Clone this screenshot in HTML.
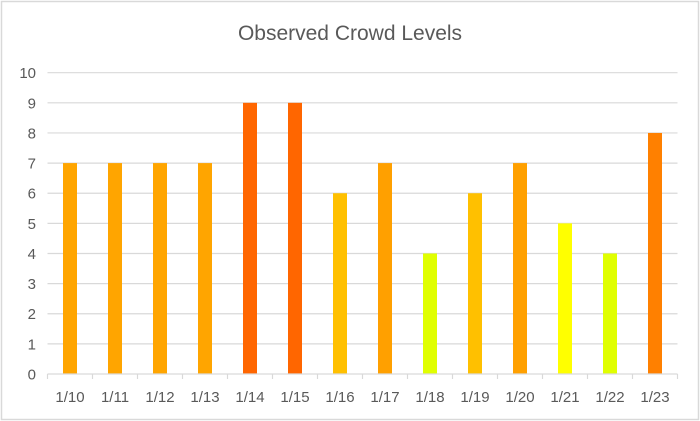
<!DOCTYPE html>
<html><head><meta charset="utf-8"><style>
body{margin:0;background:#fff;}
svg{display:block;font-family:"Liberation Sans",sans-serif;}
</style></head><body>
<svg id="chart" width="700" height="421">
<rect x="1.5" y="1.5" width="697" height="418" fill="#fff" stroke="#d9d9d9" stroke-width="1.5"/>
<text x="350" y="40" text-anchor="middle" font-size="21" fill="#595959">Observed Crowd Levels</text>
<g id="grid"></g><g id="bars"></g><g id="axes"></g>
</svg>
<script>
const categories=["1/10","1/11","1/12","1/13","1/14","1/15","1/16","1/17","1/18","1/19","1/20","1/21","1/22","1/23"];
const values=[7,7,7,7,9,9,6,7,4,6,7,5,4,8];
const colors=["#FFA500","#FFA500","#FFA500","#FFA500","#FF6600","#FF6600","#FFC000","#FFA000","#E0FF00","#FFC000","#FFA000","#FFFF00","#E0FF00","#FF8000"];
const yTicks=[0,1,2,3,4,5,6,7,8,9,10];
const NS="http://www.w3.org/2000/svg";
const x0=47.5,x1=677.5,yBase=374,yTop=72.7,yMax=10;
const bw=(x1-x0)/categories.length;
function y(v){return yBase-(yBase-yTop)*v/yMax;}
function xc(i){return x0+bw*(i+0.5);}
function mk(t,a,p){const e=document.createElementNS(NS,t);for(const k in a)e.setAttribute(k,a[k]);p.appendChild(e);return e;}
const g=document.getElementById('grid'),b=document.getElementById('bars'),ax=document.getElementById('axes');
yTicks.forEach(v=>{
 if(v>0){const l=mk('line',{x1:x0,x2:x1,y1:y(v),y2:y(v),stroke:'#d9d9d9','stroke-width':1.2},g);
 
 }
 const t=mk('text',{x:36,y:y(v)+5.5,'text-anchor':'end','font-size':15,fill:'#595959'},ax);
 t.textContent=v;
 
 
});
values.forEach((v,i)=>{
 const r=mk('rect',{x:xc(i)-7,y:y(v),width:14,height:yBase-y(v),fill:colors[i]},b);
 
 
});
const axl=mk('line',{x1:x0,x2:x1,y1:yBase,y2:yBase,stroke:'#d9d9d9','stroke-width':1.2},ax);


for(let i=0;i<=categories.length;i++){
 const tk=mk('line',{x1:x0+bw*i,x2:x0+bw*i,y1:yBase,y2:yBase+5,stroke:'#d9d9d9','stroke-width':1.2},ax);
 
 
}
categories.forEach((c,i)=>{
 const t=mk('text',{x:xc(i),y:402,'text-anchor':'middle','font-size':15,fill:'#595959'},ax);
 t.textContent=c;
 
 
});
</script>
</body></html>
